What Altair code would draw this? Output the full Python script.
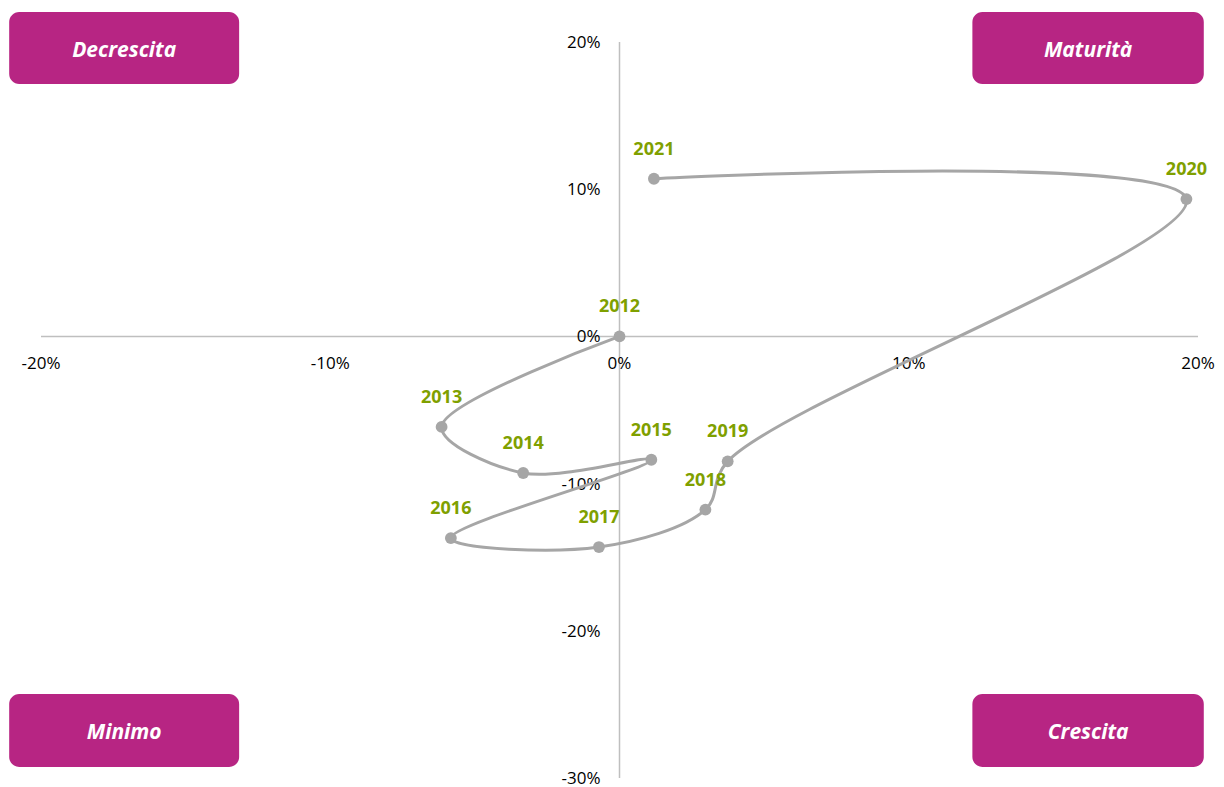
import altair as alt
import pandas as pd

# ---- data ----
years = [2012, 2013, 2014, 2015, 2016, 2017, 2018, 2019, 2020, 2021]
x_vals = [0.0, -6.15, -3.33, 1.10, -5.83, -0.71, 2.97, 3.74, 19.6, 1.19]
y_vals = [0.0, -6.15, -9.28, -8.38, -13.70, -14.31, -11.77, -8.49, 9.33, 10.71]

x_ticks = [-20, -10, 0, 10, 20]
y_ticks = [20, 10, 0, -10, -20, -30]

box_labels = ["Decrescita", "Maturità", "Minimo", "Crescita"]
box_x1 = [-21.10, 12.20, -21.10, 12.20]
box_x2 = [-13.15, 20.20, -13.15, 20.20]
box_y1 = [22.04, 22.04, -24.29, -24.29]
box_y2 = [17.15, 17.15, -29.25, -29.25]

XD = [-20, 20]
YD = [-30, 20]

pts = pd.DataFrame({"year": years, "x": x_vals, "y": y_vals, "label": [str(v) for v in years]})
boxes = pd.DataFrame({"label": box_labels, "x1": box_x1, "x2": box_x2, "y1": box_y1, "y2": box_y2})
boxes["cx"] = (boxes.x1 + boxes.x2) / 2
boxes["cy"] = (boxes.y1 + boxes.y2) / 2
xt = pd.DataFrame({"v": x_ticks, "z": [0] * len(x_ticks), "t": [f"{v}%" for v in x_ticks]})
yt = pd.DataFrame({"v": y_ticks, "z": [0] * len(y_ticks), "t": [f"{v}%" for v in y_ticks]})

xs = alt.Scale(domain=XD, nice=False, zero=False)
ys = alt.Scale(domain=YD, nice=False, zero=False)

FONT = "Open Sans"
GRAY_AX = "#BFBFBF"
LINE = "#A6A6A6"
GREEN = "#7FA000"
MAG = "#B72583"

rects = alt.Chart(boxes).mark_rect(color=MAG, cornerRadius=10).encode(
    x=alt.X("x1:Q", scale=xs, axis=None), x2="x2:Q",
    y=alt.Y("y1:Q", scale=ys, axis=None), y2="y2:Q",
)
rect_text = alt.Chart(boxes).mark_text(
    color="white", font=FONT, fontSize=21, fontWeight="bold", fontStyle="italic",
    align="center", baseline="middle", dy=3,
).encode(
    x=alt.X("cx:Q", scale=xs, axis=None),
    y=alt.Y("cy:Q", scale=ys, axis=None),
    text="label:N",
)

hrule = alt.Chart(pd.DataFrame({"a": [XD[0]], "b": [XD[1]], "z": [0]})).mark_rule(
    color=GRAY_AX, strokeWidth=1.5
).encode(
    x=alt.X("a:Q", scale=xs, axis=None), x2="b:Q",
    y=alt.Y("z:Q", scale=ys, axis=None),
)
vrule = alt.Chart(pd.DataFrame({"a": [YD[0]], "b": [YD[1]], "z": [0]})).mark_rule(
    color=GRAY_AX, strokeWidth=1.5
).encode(
    y=alt.Y("a:Q", scale=ys, axis=None), y2="b:Q",
    x=alt.X("z:Q", scale=xs, axis=None),
)

xlab = alt.Chart(xt).mark_text(
    font=FONT, fontSize=17, color="#000000", align="center", baseline="middle", dy=28
).encode(
    x=alt.X("v:Q", scale=xs, axis=None),
    y=alt.Y("z:Q", scale=ys, axis=None),
    text="t:N",
)
ylab = alt.Chart(yt).mark_text(
    font=FONT, fontSize=17, color="#000000", align="right", baseline="middle", dx=-19, dy=1
).encode(
    y=alt.Y("v:Q", scale=ys, axis=None),
    x=alt.X("z:Q", scale=xs, axis=None),
    text="t:N",
)

line = alt.Chart(pts).mark_line(
    color=LINE, strokeWidth=3, interpolate="catmull-rom"
).encode(
    x=alt.X("x:Q", scale=xs, axis=None),
    y=alt.Y("y:Q", scale=ys, axis=None),
    order="year:O",
)
dots = alt.Chart(pts).mark_circle(color=LINE, opacity=1, size=140).encode(
    x=alt.X("x:Q", scale=xs, axis=None),
    y=alt.Y("y:Q", scale=ys, axis=None),
)
ylabels = alt.Chart(pts).mark_text(
    font=FONT, fontSize=18, fontWeight="bold", color=GREEN, align="center",
    baseline="middle", dy=-29,
).encode(
    x=alt.X("x:Q", scale=xs, axis=None),
    y=alt.Y("y:Q", scale=ys, axis=None),
    text="label:N",
)

chart = alt.layer(
    rects, rect_text, hrule, vrule, xlab, ylab, line, dots, ylabels
).properties(
    width=1157, height=736,
    autosize=alt.AutoSizeParams(type="none"),
    padding={"left": 33, "top": 34, "right": 18, "bottom": 12},
).configure_view(stroke=None)

chart.save("out.html", embed_options={"renderer": "svg", "actions": False})
